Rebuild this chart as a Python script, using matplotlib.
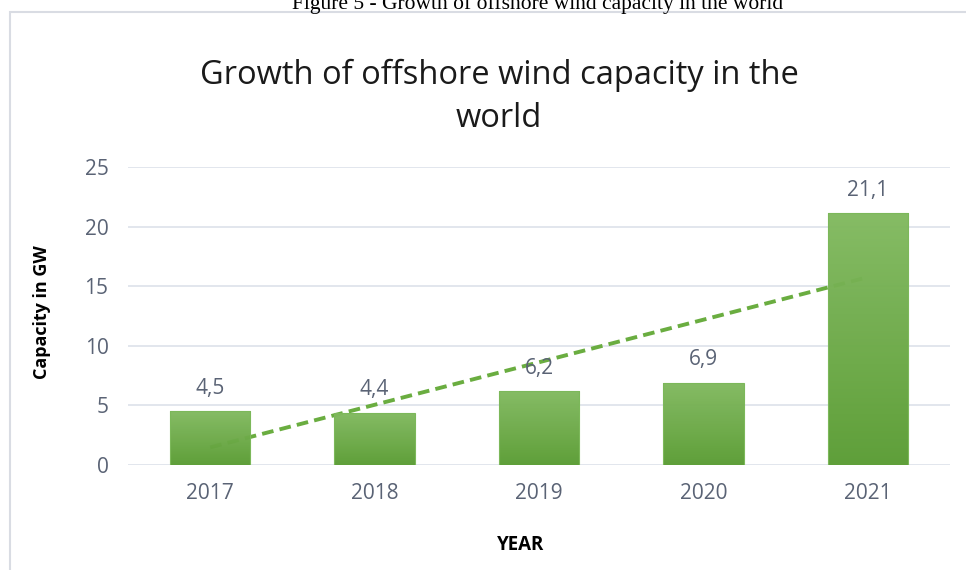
import matplotlib
matplotlib.use("Agg")
import matplotlib.pyplot as plt
import numpy as np
from matplotlib.patches import Rectangle
from matplotlib.colors import LinearSegmentedColormap

years = ["2017", "2018", "2019", "2020", "2021"]
capacity = [4.5, 4.4, 6.2, 6.9, 21.1]
labels = ["4,5", "4,4", "6,2", "6,9", "21,1"]
yticks = [0, 5, 10, 15, 20, 25]

W, H = 966, 570
fig = plt.figure(figsize=(W / 100, H / 100), dpi=100)
fig.patch.set_facecolor("white")

# outer chart frame
fig.patches.append(Rectangle((10 / W, -0.1), 1.2, 1 - 12 / H + 0.1, transform=fig.transFigure,
                             fill=False, edgecolor="#d9dce3", linewidth=1.5))
# caption (cropped at top in the source)
fig.text(538 / W, 1 - 9.5 / H, "Figure 5 - Growth of offshore wind capacity in the world",
         ha="center", va="baseline", family="Liberation Serif", fontsize=15.5, color="black")

ax = fig.add_axes([128 / W, 1 - 465 / H, (950 - 128) / W, (465 - 167) / H])
x = np.arange(len(years))
ax.set_xlim(-0.5, len(years) - 0.5)
ax.set_ylim(0, 25)

for yv in yticks:
    ax.axhline(yv, color="#dde2ea", linewidth=1.2, zorder=0)

# trendline (linear, Excel style)
xs = np.arange(1, len(years) + 1)
slope, inter = np.polyfit(xs, capacity, 1)
tx = np.array([x[0], x[-1]])
ty = slope * (tx + 1) + inter
ax.plot(tx, ty, linestyle=(0, (3, 1.6)), color="#6aad40", linewidth=2.8, zorder=1)

bw = 0.49
bars = ax.bar(x, capacity, width=bw, color="none", edgecolor="#7cb85a", linewidth=0.8, zorder=3)
cmap = LinearSegmentedColormap.from_list("g", ["#5a9c33", "#82ba60"])
grad = np.linspace(0, 1, 256).reshape(-1, 1)
for b in bars:
    x0, y0, bw_, bh = b.get_x(), b.get_y(), b.get_width(), b.get_height()
    im = ax.imshow(grad, cmap=cmap, origin="lower", aspect="auto",
                   extent=[x0, x0 + bw_, y0, y0 + bh], zorder=2, alpha=0.97)
    im.set_clip_path(b)

for xi, v, lab in zip(x, capacity, labels):
    ax.annotate(lab, (xi, v), xytext=(0, 9), textcoords="offset points", ha="center",
                va="bottom", fontsize=15, color="#5a6375", family="Open Sans")

ax.set_xticks(x)
ax.set_xticklabels(years, fontsize=15, color="#5a6375", family="Open Sans")
ax.set_yticks(yticks)
ax.set_yticklabels([str(t) for t in yticks], fontsize=15, color="#5a6375", family="Open Sans")
ax.tick_params(axis="both", length=0)
ax.tick_params(axis="x", pad=13)
ax.tick_params(axis="y", pad=14)
for s in ax.spines.values():
    s.set_visible(False)
ax.set_facecolor("none")

fig.text(499 / W, 1 - 97 / H, "Growth of offshore wind capacity in the\nworld", ha="center", va="center",
         fontsize=23.5, color="#1a1a1a", family="Open Sans", linespacing=1.38)
fig.text(42 / W, 1 - 312 / H, "Capacity in GW", rotation=90, ha="center", va="center",
         fontsize=13, fontweight="bold", color="black", family="Open Sans")
fig.text(521 / W, 1 - 545 / H, "YEAR", ha="center", va="center",
         fontsize=13.5, fontweight="bold", color="black", family="Open Sans")

fig.savefig("out.png", dpi=100)
